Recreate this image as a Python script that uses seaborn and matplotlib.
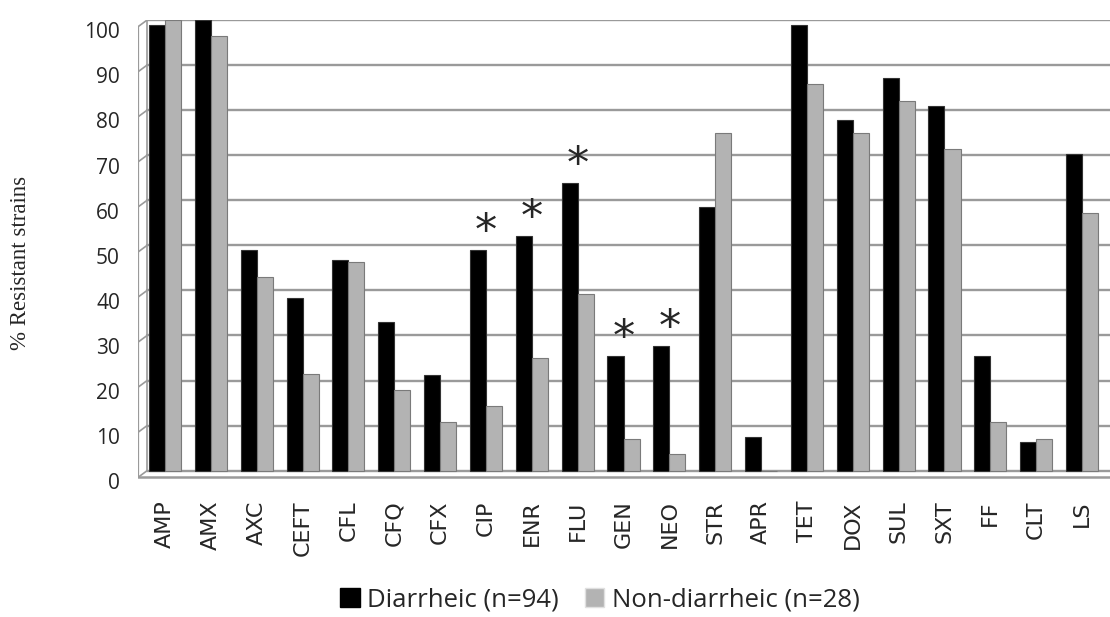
import numpy as np
import pandas as pd
import seaborn as sns
import matplotlib.pyplot as plt
from matplotlib.patches import Patch

sns.set_style("white")

# Data
drugs = ['AMP', 'AMX', 'AXC', 'CEFT', 'CFL', 'CFQ', 'CFX', 'CIP', 'ENR', 'FLU', 'GEN',
         'NEO', 'STR', 'APR', 'TET', 'DOX', 'SUL', 'SXT', 'FF', 'CLT', 'LS']
diarrheic = [98.9, 100.0, 48.9, 38.3, 46.8, 33.0, 21.3, 48.9, 52.1, 63.8, 25.5,
             27.7, 58.5, 7.4, 98.9, 77.7, 87.2, 80.9, 25.5, 6.4, 70.2]
non_diarrheic = [100.0, 96.4, 42.9, 21.4, 46.4, 17.9, 10.7, 14.3, 25.0, 39.3, 7.1,
                 3.6, 75.0, 0.0, 85.7, 75.0, 82.1, 71.4, 10.7, 7.1, 57.1]
groups = ['Diarrheic (n=94)', 'Non-diarrheic (n=28)']
starred = ['CIP', 'ENR', 'FLU', 'GEN', 'NEO']
yvals = list(range(0, 101, 10))

df = pd.DataFrame({
    'drug': drugs * 2,
    'pct': diarrheic + non_diarrheic,
    'group': [groups[0]] * len(drugs) + [groups[1]] * len(drugs),
})

colors = ['black', '#b3b3b3']

fig = plt.figure(figsize=(11.1, 6.17), dpi=100)
ax = fig.add_axes([0.1243, 0.2204, 0.8757, 0.7472])

# back wall gridlines + left wall (3D look)
grid_c = '#9a9a9a'
x_front, x_back = -0.59, -0.39
for v in yvals:
    ax.plot([x_back, 20.7], [v, v], color=grid_c, lw=1.7, zorder=0)
    ax.plot([x_front, x_back], [v - 1.5, v], color=grid_c, lw=1.2, zorder=0)
ax.plot([x_front, x_front], [-1.5, 98.5], color=grid_c, lw=1.6, zorder=0)
ax.plot([x_back, x_back], [0, 100], color=grid_c, lw=1.2, zorder=0)
ax.plot([x_front, 20.7], [-1.5, -1.5], color=grid_c, lw=1.8, zorder=0)

sns.barplot(data=df, x='drug', y='pct', hue='group', palette=colors, width=0.7,
            ax=ax, legend=False, zorder=3)

n = len(drugs)
for i, p in enumerate(ax.patches):
    if i < n:
        p.set_edgecolor('#333333')
    else:
        p.set_edgecolor('#7a7a7a')
    p.set_linewidth(0.8)

# significance stars
for d in starred:
    i = drugs.index(d)
    ax.annotate('*', (i, diarrheic[i]), xytext=(0, -3), textcoords='offset points',
                ha='center', va='bottom', fontsize=32, family='DejaVu Sans')

ax.set_xlim(x_front, 20.61)
ax.set_ylim(-1.5, 100)
# labels sit at the front edge of the left wall
ax.set_yticks([v - 2.3 for v in yvals])
ax.set_yticklabels([str(v) for v in yvals], family='Open Sans', fontsize=15)
ax.tick_params(axis='y', length=0, pad=13)
ax.tick_params(axis='x', length=0, pad=14)
ax.set_xticks(range(n))
ax.set_xticklabels(drugs, rotation=90, family='DejaVu Sans', fontsize=16)
ax.set_xlabel('')
ax.set_ylabel('')
for s in ax.spines.values():
    s.set_visible(False)

fig.text(21 / 1110, 1 - 263 / 617, '% Resistant strains', rotation=90,
         ha='center', va='center', family='Liberation Serif', fontsize=16.5)

handles = [Patch(facecolor=colors[0], edgecolor='black'),
           Patch(facecolor=colors[1], edgecolor='#e0e0e0')]
fig.legend(handles, groups, loc='center', bbox_to_anchor=(600 / 1110, 1 - 600 / 617),
           ncol=2, frameon=False, prop={'family': 'Open Sans', 'size': 18.5},
           handlelength=0.75, handleheight=0.75, handletextpad=0.3, columnspacing=1.0)

fig.savefig('out.png', dpi=100)
